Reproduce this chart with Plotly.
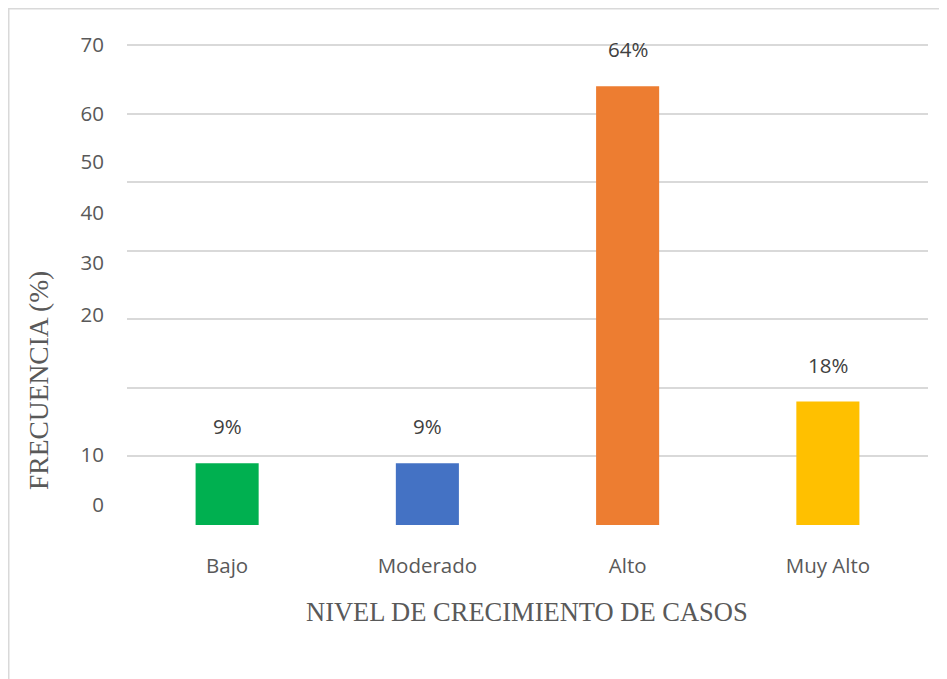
import plotly.graph_objects as go

# datos
niveles = ["Bajo", "Moderado", "Alto", "Muy Alto"]
frecuencia = [9, 9, 64, 18]
etiquetas = ["9%", "9%", "64%", "18%"]
colores = ["#00b050", "#4472c4", "#ed7d31", "#ffc000"]

# etiquetas del eje y (quedaron desplazadas en el original)
ytick_pos = [70, 60, 52.9, 45.6, 38.2, 30.6, 10.2, 2.9]
ytick_txt = ["70", "60", "50", "40", "30", "20", "10", "0"]

OFF = 8  # margen del body en la pagina
W, H = 947 - OFF, 679 - OFF
L, R, T, B = 127 - OFF, 19, 43 - OFF, 154
pw = W - L - R
ph = H - T - B

fig = go.Figure()

fig.add_trace(go.Bar(
    x=niveles, y=frecuencia,
    marker=dict(color=colores, line=dict(width=0)),
    width=0.315,
    hoverinfo="skip",
    showlegend=False,
))

# eje fantasma solo para las etiquetas
fig.add_trace(go.Scatter(
    x=[niveles[0]], y=[0], yaxis="y2", mode="markers",
    marker=dict(opacity=0), showlegend=False, hoverinfo="skip",
))

for n, v, t in zip(niveles, frecuencia, etiquetas):
    fig.add_annotation(
        x=n, y=v, text=t, showarrow=False, yshift=37,
        font=dict(family="Open Sans", size=20.5, color="#404040"),
    )

def px_x(p):
    return (p - OFF - L) / pw

def px_y(p):
    return (H - B - (p - OFF)) / ph

# titulo eje y
fig.add_annotation(
    xref="paper", yref="paper", x=px_x(38), y=px_y(381),
    xanchor="center", yanchor="middle",
    text="FRECUENCIA (%)", textangle=-90, showarrow=False,
    font=dict(family="Liberation Serif", size=27.5, color="#595959"),
)

# titulo eje x
fig.add_annotation(
    xref="paper", yref="paper", x=px_x(527), y=px_y(612),
    xanchor="center", yanchor="middle",
    text="NIVEL DE CRECIMIENTO DE CASOS", showarrow=False,
    font=dict(family="Liberation Serif", size=26.5, color="#595959"),
)

# marco
fig.add_shape(
    type="rect", xref="paper", yref="paper",
    x0=px_x(8.75), x1=px_x(960), y0=px_y(700), y1=px_y(8.75),
    line=dict(color="#d9d9d9", width=1.5),
)

fig.update_layout(
    width=W, height=H,
    margin=dict(l=L, r=R, t=T, b=B),
    plot_bgcolor="white",
    paper_bgcolor="white",
    bargap=0.685,
    xaxis=dict(
        showgrid=False, showline=False, zeroline=False, ticks="",
        ticklabelstandoff=26,
        tickfont=dict(family="Open Sans", size=20.5, color="#595959"),
    ),
    yaxis=dict(
        range=[0, 70.3], tickvals=[0, 10, 20, 30, 40, 50, 60, 70],
        showticklabels=False, showgrid=True, gridcolor="#d9d9d9",
        gridwidth=1.5, zeroline=False, showline=False, ticks="",
    ),
    yaxis2=dict(
        range=[0, 70.3], overlaying="y", side="left",
        tickvals=ytick_pos, ticktext=ytick_txt,
        showgrid=False, zeroline=False, showline=False, ticks="",
        ticklabelstandoff=22,
        tickfont=dict(family="Open Sans", size=20.5, color="#595959"),
    ),
)

fig.write_html("out.html")
